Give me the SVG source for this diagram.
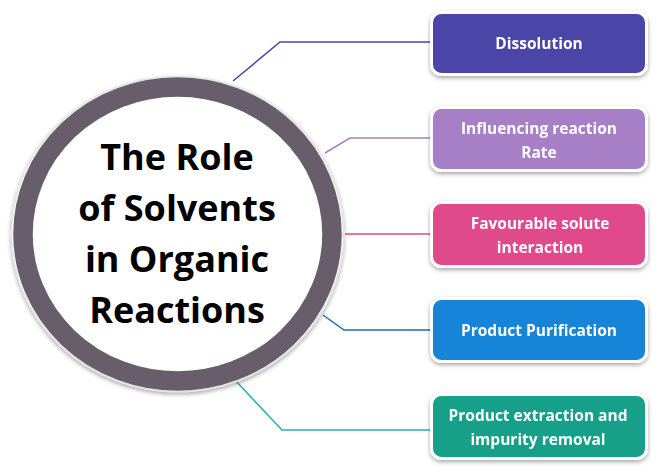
<svg xmlns="http://www.w3.org/2000/svg" width="661" height="473" viewBox="0 0 661 473">
<defs>
<filter id="sh" x="-10%" y="-10%" width="120%" height="130%">
<feGaussianBlur in="SourceAlpha" stdDeviation="2"/>
<feOffset dx="0" dy="2"/>
<feComponentTransfer><feFuncA type="linear" slope="0.35"/></feComponentTransfer>
<feMerge><feMergeNode/><feMergeNode in="SourceGraphic"/></feMerge>
</filter>
</defs>
<style>
.box{stroke:#ffffff;stroke-width:3}
.bt{font-family:"Open Sans","Liberation Sans",sans-serif;font-weight:bold;font-size:15.5px;fill:#ffffff;text-anchor:middle}
.ct{font-family:"Open Sans","Liberation Sans",sans-serif;font-weight:bold;font-size:36px;fill:#000000;text-anchor:middle}
.con{fill:none;stroke-width:1.5}
</style>
<rect width="661" height="473" fill="#ffffff"/>
<g id="connectors">
<polyline class="con" stroke="#4b45a8" points="233,81 280,42 431,42"/>
<polyline class="con" stroke="#a77fc6" points="325,153 350,138 431,138"/>
<polyline class="con" stroke="#e0488a" points="345,234 431,234"/>
<polyline class="con" stroke="#1b6fa5" points="323,315 344,330 431,330"/>
<polyline class="con" stroke="#21b2b4" points="233,378 282,430 431,430"/>
</g>
<g id="center">
<ellipse cx="177.5" cy="234" rx="166" ry="157.5" fill="#ffffff" stroke="#e4e4e4" stroke-width="1.5" filter="url(#sh)"/>
<ellipse cx="177.5" cy="234" rx="154.5" ry="147" fill="#ffffff" stroke="#685d6b" stroke-width="19.5"/>
<text class="ct" x="177" y="170">The Role</text>
<text class="ct" x="177" y="221">of Solvents</text>
<text class="ct" x="177" y="272">in Organic</text>
<text class="ct" x="177" y="323">Reactions</text>
</g>
<g id="n1" filter="url(#sh)">
<rect class="box" x="431.5" y="12.5" width="215" height="62" rx="10" fill="#4b45a8"/>
<text class="bt" x="539" y="49">Dissolution</text>
</g>
<g id="n2" filter="url(#sh)">
<rect class="box" x="431.5" y="107.5" width="215" height="63" rx="10" fill="#a77fc6"/>
<text class="bt" x="539" y="134">Influencing reaction</text>
<text class="bt" x="539" y="158">Rate</text>
</g>
<g id="n3" filter="url(#sh)">
<rect class="box" x="431.5" y="202.5" width="215" height="64" rx="10" fill="#e0488a"/>
<text class="bt" x="540" y="229">Favourable solute</text>
<text class="bt" x="540" y="253">interaction</text>
</g>
<g id="n4" filter="url(#sh)">
<rect class="box" x="431.5" y="298.5" width="215" height="63" rx="10" fill="#1784d8"/>
<text class="bt" x="539" y="336">Product Purification</text>
</g>
<g id="n5" filter="url(#sh)">
<rect class="box" x="431.5" y="394.5" width="215" height="64" rx="10" fill="#13a08a"/>
<text class="bt" x="538" y="421">Product extraction and</text>
<text class="bt" x="538" y="445">impurity removal</text>
</g>
</svg>
